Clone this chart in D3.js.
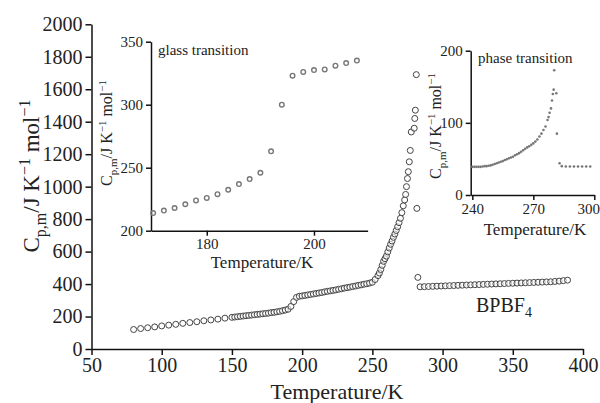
<!DOCTYPE html>
<html>
<head>
<meta charset="utf-8">
<script src="https://cdn.jsdelivr.net/npm/d3@7"></script>
<style>
  body { margin: 0; background: #fff; }
  text { font-family: "Liberation Serif", "Times New Roman", serif; fill: #222; }
  .axis path, .axis line { stroke: #111; stroke-width: 1.5; }
</style>
</head>
<body>
<div id="chart"></div>
<script>
// main curve, Cp,m vs T
var mainT = [80, 85, 90, 95, 100, 105, 110, 115, 120, 125, 130, 135, 140, 145, 150,
  152, 154, 156, 158, 160, 162, 164, 166, 168, 170, 172, 174, 176, 178, 180, 182, 184, 186, 188, 190,
  192, 194, 196, 198, 200, 202, 204, 206, 208, 210, 212, 214, 216, 218, 220, 222, 224, 226, 228, 230,
  232, 234, 236, 238, 240, 242, 244, 246, 248, 250, 252, 254, 255, 256, 257, 258, 259, 260, 261, 262,
  263, 264, 265, 266, 267, 268, 269, 270, 271, 272, 273, 273.7, 274.3, 275, 275.6, 276.3, 277, 277.7,
  279.8, 280.2, 280.6, 281.3, 281.7, 282.4,
  284, 287, 290, 293, 296, 299, 302, 305, 308, 311, 314, 317, 320, 323, 326, 329, 332, 335, 338, 341,
  344, 347, 350, 353, 356, 359, 362, 365, 368, 371, 374, 377, 380, 383, 386, 389];
var mainCp = [120, 126, 131, 136, 142, 147, 152, 158, 163, 168, 174, 179, 184, 190, 195,
  197, 199, 201, 203, 205, 207, 209, 211, 213, 215, 217, 219, 221, 224, 226, 229, 232, 236, 240, 245,
  262, 292, 318, 325, 327, 330, 333, 336, 339, 342, 345, 348, 352, 355, 358, 361, 364, 368, 371, 375,
  378, 381, 385, 388, 392, 395, 399, 402, 406, 411, 428, 452, 468, 490, 515, 540, 556, 572, 598, 622,
  645, 665, 688, 708, 730, 753, 778, 805, 840, 882, 918, 952, 1000, 1050, 1092, 1153, 1223, 1337,
  1360, 1420, 1471, 1690, 866, 441,
  383, 384, 385, 386, 387, 388, 389, 390, 391, 392, 393, 394, 395, 396, 397, 398, 399, 400, 401, 402,
  403, 404, 405, 406, 407, 408, 409, 410, 411, 412, 413, 414, 416, 418, 421, 424];

// glass transition inset
var glassT = [170, 172, 174, 176, 178, 180, 182, 184, 186, 188, 190, 192, 194, 196, 198, 200, 202, 204, 206, 208];
var glassCp = [214, 216, 218, 221, 224, 226, 229, 232.5, 237, 241, 246, 263, 300, 323, 326, 327.5, 328, 331, 333, 335];

// phase transition inset
var phaseT = [240, 241, 242, 243, 244, 245, 246, 247, 248, 249, 250, 251, 252, 253, 254, 255, 256, 257, 258,
  259, 260, 261, 262, 263, 264, 265, 266, 267, 268, 269, 270, 271, 272, 273, 274, 275, 276, 277, 277.5,
  278, 278.7, 279.2, 279.6, 280, 280.3, 281.3, 281.6, 282.9, 284, 286, 288, 290, 292, 294, 296, 298];
var phaseCp = [39, 39, 39, 39, 39, 39.5, 40, 40, 40.5, 41, 42, 43, 44, 45, 46, 47, 48.5, 49.5, 51,
  52, 53, 55, 56.5, 58, 60, 62, 64, 66, 67.5, 69.5, 71.5, 74, 77, 81, 85, 90, 95, 104, 108,
  114, 120, 131, 140, 146, 173, 141, 85, 44, 40, 39.5, 39.5, 39.5, 39.5, 39.5, 39.5, 39.5];

var mainXTicks = [50, 100, 150, 200, 250, 300, 350, 400];
var mainYTicks = [0, 200, 400, 600, 800, 1000, 1200, 1400, 1600, 1800, 2000];
var glassXTicks = [180, 200];
var glassYTicks = [200, 250, 300, 350];
var phaseXTicks = [240, 270, 300];
var phaseYTicks = [0, 100, 200];

var W = 600, H = 403;
var svg = d3.select("#chart").append("svg")
  .attr("width", W).attr("height", H);

// Cp,m/J K-1 mol-1 with sub/superscripts
function cpLabel(g, x, y, size) {
  var small = Math.round(size * 0.68);
  var t = g.append("text")
    .attr("transform", "translate(" + x + "," + y + ") rotate(-90)")
    .attr("text-anchor", "middle")
    .style("font-size", size + "px");
  t.append("tspan").text("C");
  t.append("tspan").attr("dy", size * 0.3).style("font-size", small + "px").text("p,m");
  t.append("tspan").attr("dy", -size * 0.3).text("/J K");
  t.append("tspan").attr("dy", -size * 0.38).style("font-size", small + "px").text("\u22121");
  t.append("tspan").attr("dy", size * 0.38).text(" mol");
  t.append("tspan").attr("dy", -size * 0.38).style("font-size", small + "px").text("\u22121");
}

function drawAxes(x, y, xt, yt, fs, tick) {
  var gx = svg.append("g").attr("class", "axis")
    .attr("transform", "translate(0," + y.range()[0] + ")")
    .call(d3.axisBottom(x).tickValues(xt).tickFormat(d3.format("d"))
      .tickSize(tick).tickSizeOuter(0).tickPadding(3));
  var gy = svg.append("g").attr("class", "axis")
    .attr("transform", "translate(" + x.range()[0] + ",0)")
    .call(d3.axisLeft(y).tickValues(yt).tickFormat(d3.format("d"))
      .tickSize(tick).tickSizeOuter(0).tickPadding(3));
  [gx, gy].forEach(function(g) {
    g.selectAll("text").style("font-size", fs + "px")
      .style("font-family", "'Liberation Serif', 'Times New Roman', serif").attr("fill", "#222");
  });
  return gx;
}

// main chart
var x = d3.scaleLinear().domain([50, 400]).range([91.5, 583]);
var y = d3.scaleLinear().domain([0, 2000]).range([349, 24.3]);
drawAxes(x, y, mainXTicks, mainYTicks, 20, 6);

svg.append("g").selectAll("circle")
  .data(d3.zip(mainT, mainCp))
  .join("circle")
  .attr("cx", function(d) { return x(d[0]); })
  .attr("cy", function(d) { return y(d[1]); })
  .attr("r", 3)
  .attr("fill", "#fff")
  .attr("fill-opacity", 0.6)
  .attr("stroke", "#444")
  .attr("stroke-width", 1);

svg.append("text").attr("x", 337).attr("y", 399)
  .attr("text-anchor", "middle").style("font-size", "22px").text("Temperature/K");
cpLabel(svg, 39, 176, 23);

var bp = svg.append("text").attr("x", 476).attr("y", 312).style("font-size", "20px");
bp.append("tspan").text("BPBF");
bp.append("tspan").attr("dy", 5).style("font-size", "14px").text("4");

// glass transition inset
var gx = d3.scaleLinear().domain([169.6, 210]).range([151, 367.6]);
var gy = d3.scaleLinear().domain([200, 350]).range([230.7, 41.7]);
drawAxes(gx, gy, glassXTicks, glassYTicks, 15, 5);

svg.append("g").selectAll("circle")
  .data(d3.zip(glassT, glassCp))
  .join("circle")
  .attr("cx", function(d) { return gx(d[0]); })
  .attr("cy", function(d) { return gy(d[1]); })
  .attr("r", 2.3)
  .attr("fill", "none")
  .attr("stroke", "#777")
  .attr("stroke-width", 1.4);

svg.append("text").attr("x", 158).attr("y", 55).style("font-size", "15px").text("glass transition");
svg.append("text").attr("x", 262).attr("y", 268)
  .attr("text-anchor", "middle").style("font-size", "17px").text("Temperature/K");
cpLabel(svg, 112, 133, 16);

// phase transition inset
var px = d3.scaleLinear().domain([239.2, 300]).range([470.7, 594.3]);
var py = d3.scaleLinear().domain([0, 200]).range([195, 50.7]);
var pxAxis = drawAxes(px, py, phaseXTicks, phaseYTicks, 15, 5);
// keep the last tick label inside the picture
pxAxis.selectAll(".tick text").filter(function(d) { return d === 300; }).attr("dx", -6);

svg.append("g").selectAll("circle")
  .data(d3.zip(phaseT, phaseCp))
  .join("circle")
  .attr("cx", function(d) { return px(d[0]); })
  .attr("cy", function(d) { return py(d[1]); })
  .attr("r", 1.3)
  .attr("fill", "#777");

svg.append("text").attr("x", 478).attr("y", 63).style("font-size", "15px").text("phase transition");
svg.append("text").attr("x", 535).attr("y", 235)
  .attr("text-anchor", "middle").style("font-size", "17px").text("Temperature/K");
cpLabel(svg, 441, 126, 16);
</script>
</body>
</html>
